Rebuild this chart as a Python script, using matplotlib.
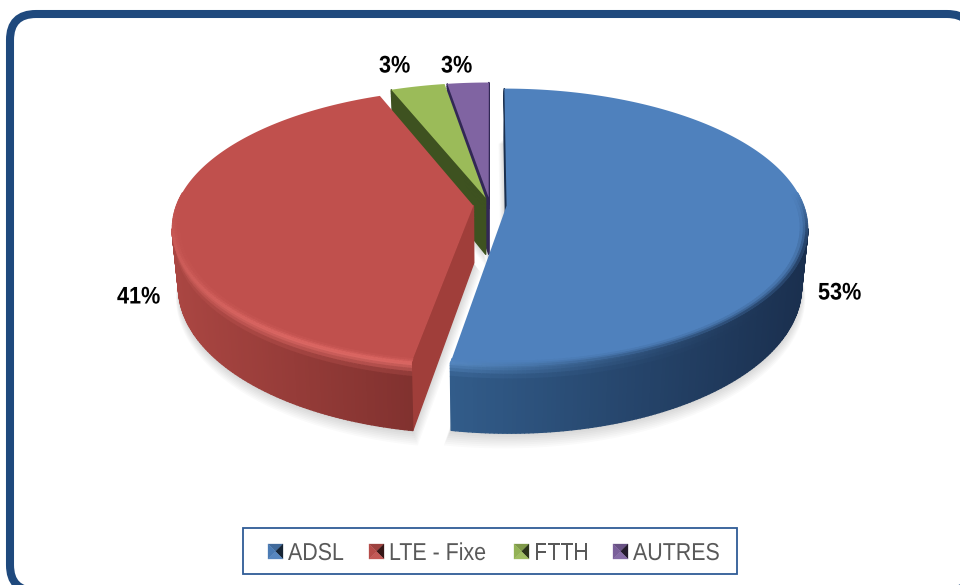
import numpy as np
import matplotlib
matplotlib.use("Agg")
import matplotlib.pyplot as plt
from matplotlib.collections import PolyCollection
from matplotlib.patches import FancyBboxPatch, Polygon, Rectangle
from matplotlib.patheffects import AbstractPathEffect
from matplotlib.transforms import Affine2D

# Données
categories = ["ADSL", "LTE - Fixe", "FTTH", "AUTRES"]
valeurs = [52.7, 41.3, 3.4, 2.6]

# Style
couleurs = [(79, 129, 189), (192, 80, 77), (155, 187, 89), (128, 100, 162)]
paroi_gauche = [(50, 92, 138), (170, 70, 66), (62, 82, 32), (50, 40, 85)]
paroi_droite = [(26, 47, 78), (118, 44, 42), (62, 82, 32), (50, 40, 85)]
coupe = [(26, 47, 78), (160, 62, 58), (62, 82, 32), (50, 40, 85)]
reflet = [(86, 136, 192), (226, 108, 104), (120, 150, 70), (90, 75, 130)]
pos_labels = [(818, 293), (117, 297), (379, 66), (441, 66)]
BLEU_CADRE = "#1F497D"
POLICE = "Liberation Sans"

# Géométrie du camembert en perspective (pixels)
CX, CY = 490, 205
R, B = 297, 135
P = 0.155
PROF = 57
ECLATE = 0.056


class Etroit(AbstractPathEffect):
    # Le texte de la figure d'origine est un peu condensé
    def __init__(self, sx):
        super().__init__()
        self.sx = sx

    def draw_path(self, renderer, gc, tpath, affine, rgbFace=None):
        renderer.draw_path(gc, tpath, Affine2D().scale(self.sx, 1) + affine, rgbFace)


def projeter(u, v, z=0.0):
    s = 1 / (1 + P * v)
    return CX + R * u * s * (1 - 0.02 * z), CY - B * v * s + PROF * z * s


def melange(c1, c2, t):
    return tuple((a + (b - a) * t) / 255 for a, b in zip(c1, c2))


def contour(a1, a2, eu, ev):
    # Apex, puis l'arc dans le sens horaire
    angles = np.linspace(a1, a2, max(int((a2 - a1) * 80), 4))
    u = np.concatenate([[eu], eu + np.sin(angles)])
    v = np.concatenate([[ev], ev + np.cos(angles)])
    return u, v


def dessiner_part(ax, i, a1, a2, zo):
    mid = (a1 + a2) / 2
    eu, ev = ECLATE * np.sin(mid), ECLATE * np.cos(mid)
    u, v = contour(a1, a2, eu, ev)
    x, y = projeter(u, v)
    # Fermer le contour
    u2 = np.append(u, u[0])
    v2 = np.append(v, v[0])
    x2, y2 = projeter(u2, v2)
    xmin, xmax = x.min(), x.max()
    rangs = [0, 0.04, 0.08, 0.13, 0.2, 1]
    polys, cols = [], []
    bord_polys, bord_cols = [], []
    for k in range(len(u2) - 1):
        # Seules les faces qui vont de droite à gauche sont visibles
        visible = x2[k + 1] < x2[k]
        xm = (x2[k] + x2[k + 1]) / 2
        t = (xm - xmin) / max(xmax - xmin, 1)
        if k == 0:
            base = coupe[i]
        else:
            base = tuple(c * 255 for c in melange(paroi_gauche[i], paroi_droite[i], t))
        vm = (v2[k] + v2[k + 1]) / 2
        force = np.clip(0.45 - 0.65 * vm, 0, 1) * ((1 - t) ** 2 if i == 0 else 1)
        if visible:
            for r in range(len(rangs) - 1):
                z0, z1 = rangs[r], rangs[r + 1]
                polys.append([projeter(u2[k], v2[k], z0), projeter(u2[k + 1], v2[k + 1], z0),
                              projeter(u2[k + 1], v2[k + 1], z1), projeter(u2[k], v2[k], z1)])
                f = force * max(0, 1 - (z0 + z1) / 2 / 0.2) if (i < 2 and k > 0) else 0
                cols.append(melange(base, reflet[i], f))
        # Liseré flou sur le bord de la face supérieure
        if 0 < k < len(u) - 1 and vm - ev < 0.1 and i < 2:
            fin = tuple(c * 255 for c in melange(base, reflet[i], force))
            for r0, r1, f in [(0.975, 0.985, 0.15), (0.985, 0.993, 0.4), (0.993, 1.0, 0.75)]:
                p = [(eu + (u2[k] - eu) * r0, ev + (v2[k] - ev) * r0),
                     (eu + (u2[k + 1] - eu) * r0, ev + (v2[k + 1] - ev) * r0),
                     (eu + (u2[k + 1] - eu) * r1, ev + (v2[k + 1] - ev) * r1),
                     (eu + (u2[k] - eu) * r1, ev + (v2[k] - ev) * r1)]
                bord_polys.append([projeter(a, b) for a, b in p])
                bord_cols.append(melange(couleurs[i], fin, f * min(1, (0.1 - (vm - ev)) * 3)))
    if polys:
        ax.add_collection(PolyCollection(polys, facecolors=cols, edgecolors=cols, linewidths=1.0, zorder=zo))
    ax.add_patch(Polygon(np.column_stack([x, y]), closed=True, fc=melange(couleurs[i], couleurs[i], 0),
                         ec="none", zorder=zo + 0.3))
    if bord_polys:
        ax.add_collection(PolyCollection(bord_polys, facecolors=bord_cols, edgecolors=bord_cols,
                                         linewidths=0.6, zorder=zo + 0.6))


def ombre(ax, a1, a2):
    mid = (a1 + a2) / 2
    eu, ev = ECLATE * np.sin(mid), ECLATE * np.cos(mid)
    u, v = contour(a1, a2, eu, ev)
    x, y = projeter(u, v, 1.0)
    xc, yc = x.mean(), y.mean()
    for k in range(1, 9):
        g = 1 + 0.004 * k
        ax.add_patch(Polygon(np.column_stack([xc + (x - xc) * g, yc + (y - yc) * g + k * 1.3]),
                             closed=True, fc=(0, 0, 0, 0.018), ec="none", zorder=2))


fig = plt.figure(figsize=(9.6, 5.85), dpi=100)
ax = fig.add_axes([0, 0, 1, 1])
ax.set_xlim(0, 960)
ax.set_ylim(585, 0)
ax.axis("off")

# Cadre arrondi, coupé à droite et en bas par le bord de l'image
ax.add_patch(FancyBboxPatch((10, 14), 963, 577, boxstyle="round,pad=0,rounding_size=26",
                            fc="white", ec=BLEU_CADRE, lw=5.8, zorder=1))

bornes = np.cumsum([0] + valeurs) / sum(valeurs) * 2 * np.pi
for i in range(4):
    ombre(ax, bornes[i], bornes[i + 1])

# Peintre : de l'arrière vers l'avant
for zo, i in zip([3, 4, 5, 6], [3, 2, 1, 0]):
    dessiner_part(ax, i, bornes[i], bornes[i + 1], zo)

# Étiquettes
for val, (lx, ly) in zip(valeurs, pos_labels):
    ax.text(lx, ly, f"{round(val)}%", ha="left", va="center", fontsize=17.3,
            fontweight="bold", family=POLICE, color="black", zorder=10,
            path_effects=[Etroit(0.9)])

# Légende
ax.add_patch(Rectangle((243, 528), 494, 46, fc="white", ec="#2F5C96", lw=1.3, zorder=8))
leg_x = [268, 369, 514, 613]
for i, (nom, lx) in enumerate(zip(categories, leg_x)):
    x0, x1, y0, y1 = lx, lx + 15, 544, 559
    xm, ym = lx + 7.5, 551.5
    tons = [melange(couleurs[i], (0, 0, 0), 0.18),
            melange(couleurs[i], (0, 0, 0), 0.72),
            melange(couleurs[i], (255, 255, 255), 0.05),
            melange(couleurs[i], (0, 0, 0), 0.05)]
    tris = [[(x0, y0), (x1, y0), (xm, ym)], [(x1, y0), (x1, y1), (xm, ym)],
            [(x1, y1), (x0, y1), (xm, ym)], [(x0, y1), (x0, y0), (xm, ym)]]
    for tri, ton in zip(tris, tons):
        ax.add_patch(Polygon(tri, closed=True, fc=ton, ec=ton, lw=0.2, zorder=9))
    ax.text(lx + 20, 551.5, nom, ha="left", va="center_baseline", fontsize=17.6,
            family=POLICE, color="#595959", zorder=9, path_effects=[Etroit(0.875)])

fig.savefig("out.png", dpi=100)
